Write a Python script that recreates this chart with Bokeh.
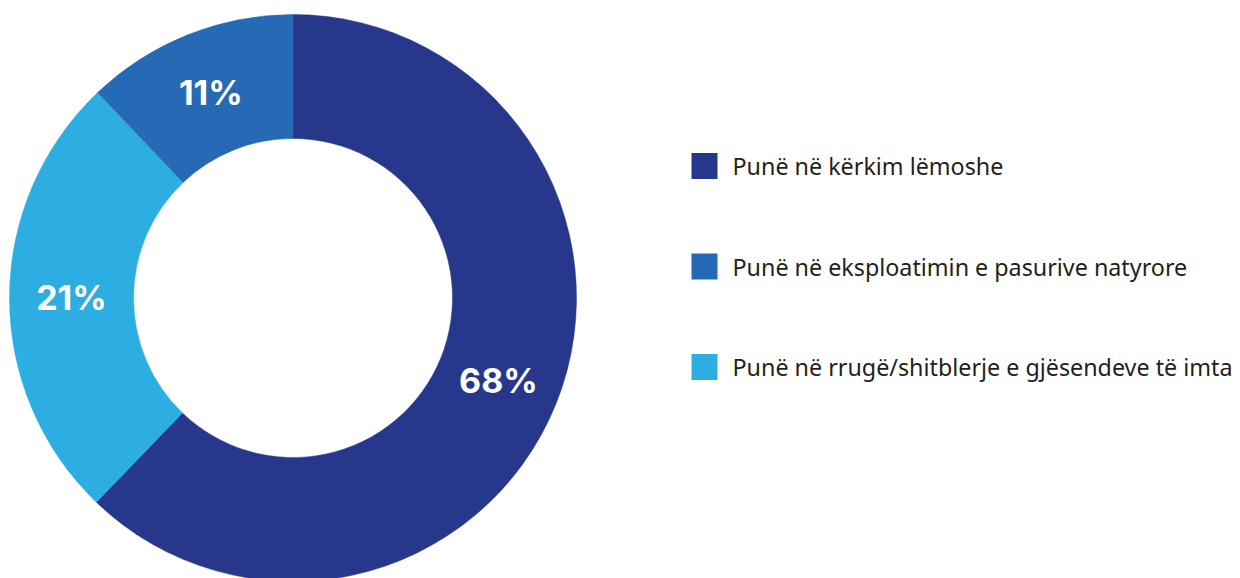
import math
from bokeh.plotting import figure
from bokeh.models import Range1d, ColumnDataSource
from bokeh.core.properties import value
from bokeh.embed import file_html
from bokeh.resources import INLINE

# ---- data (legend order) ----
categories = [
    "Punë në kërkim lëmoshe",
    "Punë në eksploatimin e pasurive natyrore",
    "Punë në rrugë/shitblerje e gjësendeve të imta",
]
pct_labels = ["68%", "11%", "21%"]
# slice shares as drawn in the picture (percent of the circle)
shares = [62.2, 12.1, 25.7]
colors = ["#27388C", "#2669B4", "#2DAEE2"]
# clockwise drawing order starting at 12 o'clock
slice_order = [0, 2, 1]

W, H = 1240, 578
p = figure(width=W, height=H, output_backend="svg", toolbar_location=None,
           x_range=Range1d(0, W), y_range=Range1d(H, 0), min_border=0)
p.axis.visible = False
p.grid.visible = False
p.outline_line_color = None
p.background_fill_color = "white"

cx, cy = 292.5, 297.5
r_out, r_in = 283.5, 159.5

start = math.pi / 2
sa, ea, cols, tx, ty, tt = [], [], [], [], [], []
for i in slice_order:
    sweep = 2 * math.pi * shares[i] / 100.0
    end = start - sweep
    sa.append(start); ea.append(end); cols.append(colors[i])
    mid = (start + end) / 2
    rm = (r_out + r_in) / 2
    tx.append(cx + rm * math.cos(mid)); ty.append(cy - rm * math.sin(mid))
    tt.append(pct_labels[i])
    start = end

src = ColumnDataSource(dict(x=[cx] * 3, y=[cy] * 3, sa=sa, ea=ea, c=cols))
p.annular_wedge(x="x", y="y", inner_radius=r_in, outer_radius=r_out,
                start_angle="sa", end_angle="ea", direction="clock",
                fill_color="c", line_color="c", line_width=0.5, source=src)

p.text(x=tx, y=ty, text=tt, text_color="white", text_font=value("Inter"),
       text_font_style="bold", text_font_size="34px",
       text_align="center", text_baseline="middle")

# legend
lx, ly0, dy = 704, 165.5, 100.5
leg_y = [ly0 + k * dy for k in range(len(categories))]
p.rect(x=[lx] * 3, y=leg_y, width=26, height=26, fill_color=colors,
       line_color=None)
p.text(x=[lx + 28] * 3, y=leg_y, text=categories, text_color="#231F20",
       text_font=value("Noto Sans"), text_font_size="23.3px",
       text_align="left", text_baseline="middle")

open("out.html", "w").write(file_html(p, INLINE))
